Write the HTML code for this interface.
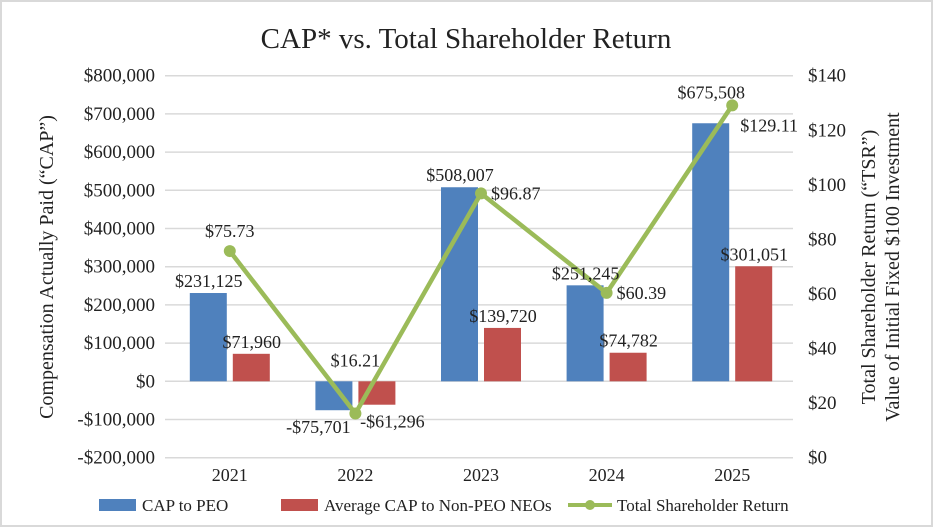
<!DOCTYPE html>
<html><head><meta charset="utf-8"><style>
html,body{margin:0;padding:0;background:#fff}
svg{display:block;font-family:"Liberation Serif",serif}
</style></head><body>
<svg id="c" width="933" height="527" viewBox="0 0 933 527">
<rect x="1" y="1" width="931" height="525" fill="#fff" stroke="#d9d9d9" stroke-width="2"/>
<text x="466" y="48" text-anchor="middle" font-size="29" fill="#222">CAP* vs. Total Shareholder Return</text>
<g id="grid"></g><g id="bars"></g><g id="line"></g><g id="labels"></g>
<text transform="translate(53,267) rotate(-90)" text-anchor="middle" font-size="20" fill="#222">Compensation Actually Paid (“CAP”)</text>
<text transform="translate(875,267) rotate(-90)" text-anchor="middle" font-size="20" fill="#222">Total Shareholder Return (“TSR”)</text>
<text transform="translate(899,267) rotate(-90)" text-anchor="middle" font-size="20" fill="#222">Value of Initial Fixed $100 Investment</text>
<g font-size="17" fill="#222">
<rect x="99" y="499" width="37" height="12" fill="#4f81bd"/>
<text x="142" y="511">CAP to PEO</text>
<rect x="281" y="499" width="37" height="12" fill="#c0504d"/>
<text x="324" y="511">Average CAP to Non-PEO NEOs</text>
<line x1="568" y1="505" x2="612" y2="505" stroke="#9bbb59" stroke-width="4"/>
<circle cx="590" cy="505" r="5" fill="#9bbb59"/>
<text x="617" y="511">Total Shareholder Return</text>
</g>
</svg>
<script>
const years=["2021","2022","2023","2024","2025"];
const capPeo=[231125,-75701,508007,251245,675508];
const capNeo=[71960,-61296,139720,74782,301051];
const tsr=[75.73,16.21,96.87,60.39,129.11];
const leftTicks=[-200000,-100000,0,100000,200000,300000,400000,500000,600000,700000,800000];
const rightTicks=[0,20,40,60,80,100,120,140];
const NS="http://www.w3.org/2000/svg";
const X0=165,X1=793,YT=75.7,YB=457.7;
const yL=v=>YB-(v+200000)/1000000*(YB-YT);
const yR=v=>YB-v/140*(YB-YT);
const xC=i=>X0+(i+0.5)*(X1-X0)/years.length+2;
const fmt=v=>(v<0?"-$":"$")+Math.abs(v).toLocaleString("en-US");
function mk(tag,attrs,parent,text){const e=document.createElementNS(NS,tag);for(const k in attrs)e.setAttribute(k,attrs[k]);if(text!==undefined)e.textContent=text;document.getElementById(parent).appendChild(e);return e;}
leftTicks.forEach(t=>{
  const l=mk("line",{x1:X0,x2:X1,y1:yL(t),y2:yL(t),stroke:"#d9d9d9","stroke-width":1.5},"grid");
  
  
  const tx=mk("text",{x:155,y:yL(t)+6,"text-anchor":"end","font-size":19,fill:"#222"},"grid",fmt(t));
  
  
});
rightTicks.forEach(t=>{
  const tx=mk("text",{x:808,y:yR(t)+6,"font-size":19,fill:"#222"},"grid","$"+t);
  
  
});
const peoDy=[0,0,0,0,-19];
years.forEach((y,i)=>{
  const c=xC(i);
  const tx=mk("text",{x:c,y:481,"text-anchor":"middle","font-size":18,fill:"#222"},"grid",y);
  
  
  const a=capPeo[i],b=capNeo[i];
  const r1=mk("rect",{x:c-40,width:37,y:Math.min(yL(a),yL(0)),height:Math.abs(yL(a)-yL(0)),fill:"#4f81bd"},"bars");
  
  
  const r2=mk("rect",{x:c+3,width:37,y:Math.min(yL(b),yL(0)),height:Math.abs(yL(b)-yL(0)),fill:"#c0504d"},"bars");
  
  
  const l1=mk("text",{x:a>=0?c-21:c-37,y:(a>=0?yL(a)-6:yL(a)+23)+peoDy[i],"text-anchor":"middle","font-size":18,fill:"#222"},"labels",fmt(a));
  
  
  const l2=mk("text",{x:b>=0?c+22:c+37,y:b>=0?yL(b)-6:yL(b)+23,"text-anchor":"middle","font-size":18,fill:"#222"},"labels",fmt(b));
  
  
});
const pts=tsr.map((v,i)=>xC(i)+","+yR(v)).join(" ");
const pl=mk("polyline",{points:pts,fill:"none",stroke:"#9bbb59","stroke-width":4.5},"line");


const tOff=[[0,-14,"middle"],[0,-47,"middle"],[10,6,"start"],[10,6,"start"],[8,26,"start"]];
tsr.forEach((v,i)=>{
  const m=mk("circle",{cx:xC(i),cy:yR(v),r:6,fill:"#9bbb59"},"line");
  
  
  const o=tOff[i];
  const t=mk("text",{x:xC(i)+o[0],y:yR(v)+o[1],"text-anchor":o[2],"font-size":18,fill:"#222"},"labels","$"+v.toFixed(2));
  
  
});
</script>
</body></html>
